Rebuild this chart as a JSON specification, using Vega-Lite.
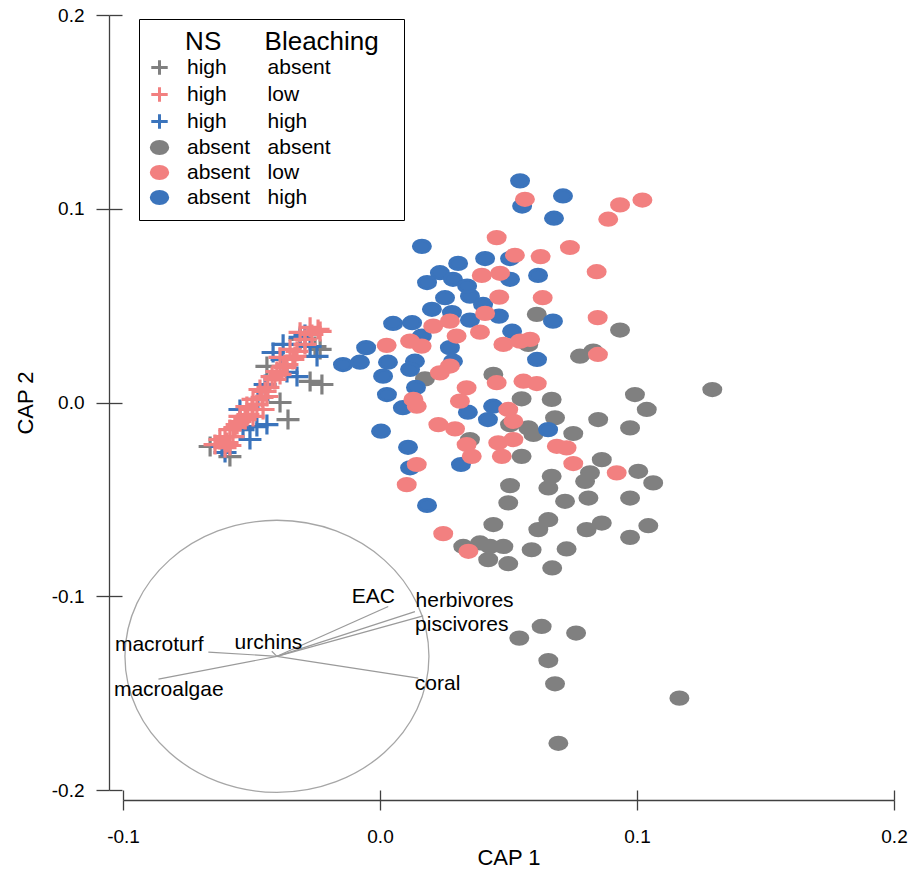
{
  "$schema": "https://vega.github.io/schema/vega-lite/v6.json",
  "width": 771,
  "height": 775,
  "autosize": "none",
  "padding": {"left": 123, "top": 15, "right": 15, "bottom": 89},
  "background": "white",
  "config": {"font": "Liberation Sans", "view": {"stroke": null}},
  "datasets": {
    "samples": [
      {"x": -0.0226, "y": 0.0093, "g": "high/absent"},
      {"x": -0.0358, "y": -0.0088, "g": "high/absent"},
      {"x": -0.0440, "y": 0.0186, "g": "high/absent"},
      {"x": -0.0253, "y": 0.0289, "g": "high/absent"},
      {"x": -0.0661, "y": -0.0227, "g": "high/absent"},
      {"x": -0.0584, "y": -0.0279, "g": "high/absent"},
      {"x": -0.0272, "y": 0.0109, "g": "high/absent"},
      {"x": -0.0389, "y": 0.0000, "g": "high/absent"},
      {"x": -0.0233, "y": 0.0274, "g": "high/absent"},
      {"x": -0.0311, "y": 0.0326, "g": "high/absent"},
      {"x": -0.0311, "y": 0.0336, "g": "high/high"},
      {"x": -0.0272, "y": 0.0289, "g": "high/high"},
      {"x": -0.0416, "y": 0.0258, "g": "high/high"},
      {"x": -0.0245, "y": 0.0238, "g": "high/high"},
      {"x": -0.0362, "y": 0.0155, "g": "high/high"},
      {"x": -0.0323, "y": 0.0134, "g": "high/high"},
      {"x": -0.0545, "y": -0.0036, "g": "high/high"},
      {"x": -0.0479, "y": -0.0124, "g": "high/high"},
      {"x": -0.0533, "y": -0.0140, "g": "high/high"},
      {"x": -0.0440, "y": -0.0114, "g": "high/high"},
      {"x": -0.0603, "y": -0.0258, "g": "high/high"},
      {"x": -0.0377, "y": 0.0300, "g": "high/high"},
      {"x": -0.0447, "y": 0.0093, "g": "high/high"},
      {"x": -0.0506, "y": -0.0191, "g": "high/high"},
      {"x": -0.0615, "y": -0.0227, "g": "high/high"},
      {"x": -0.0475, "y": 0.0016, "g": "high/high"},
      {"x": -0.0381, "y": 0.0222, "g": "high/high"},
      {"x": -0.0292, "y": 0.0351, "g": "high/high"},
      {"x": -0.0272, "y": 0.0388, "g": "high/low"},
      {"x": -0.0311, "y": 0.0362, "g": "high/low"},
      {"x": -0.0339, "y": 0.0222, "g": "high/low"},
      {"x": -0.0377, "y": 0.0186, "g": "high/low"},
      {"x": -0.0420, "y": 0.0134, "g": "high/low"},
      {"x": -0.0467, "y": 0.0067, "g": "high/low"},
      {"x": -0.0494, "y": 0.0016, "g": "high/low"},
      {"x": -0.0518, "y": -0.0021, "g": "high/low"},
      {"x": -0.0440, "y": 0.0031, "g": "high/low"},
      {"x": -0.0545, "y": -0.0072, "g": "high/low"},
      {"x": -0.0584, "y": -0.0140, "g": "high/low"},
      {"x": -0.0623, "y": -0.0191, "g": "high/low"},
      {"x": -0.0595, "y": -0.0207, "g": "high/low"},
      {"x": -0.0572, "y": -0.0176, "g": "high/low"},
      {"x": -0.0350, "y": 0.0274, "g": "high/low"},
      {"x": -0.0401, "y": 0.0160, "g": "high/low"},
      {"x": -0.0455, "y": -0.0036, "g": "high/low"},
      {"x": -0.0494, "y": -0.0072, "g": "high/low"},
      {"x": -0.0389, "y": 0.0233, "g": "high/low"},
      {"x": -0.0292, "y": 0.0326, "g": "high/low"},
      {"x": -0.0525, "y": -0.0088, "g": "high/low"},
      {"x": -0.0556, "y": -0.0114, "g": "high/low"},
      {"x": -0.0603, "y": -0.0233, "g": "high/low"},
      {"x": -0.0479, "y": -0.0010, "g": "high/low"},
      {"x": -0.0642, "y": -0.0217, "g": "high/low"},
      {"x": -0.0564, "y": -0.0129, "g": "high/low"},
      {"x": -0.0514, "y": -0.0062, "g": "high/low"},
      {"x": -0.0459, "y": 0.0026, "g": "high/low"},
      {"x": -0.0409, "y": 0.0119, "g": "high/low"},
      {"x": -0.0362, "y": 0.0196, "g": "high/low"},
      {"x": -0.0323, "y": 0.0264, "g": "high/low"},
      {"x": -0.0265, "y": 0.0351, "g": "high/low"},
      {"x": -0.0233, "y": 0.0367, "g": "high/low"},
      {"x": -0.0603, "y": -0.0176, "g": "high/low"},
      {"x": -0.0545, "y": -0.0098, "g": "high/low"},
      {"x": -0.0498, "y": -0.0036, "g": "high/low"},
      {"x": -0.0447, "y": 0.0057, "g": "high/low"},
      {"x": -0.0389, "y": 0.0145, "g": "high/low"},
      {"x": -0.0331, "y": 0.0238, "g": "high/low"},
      {"x": -0.0292, "y": 0.0300, "g": "high/low"},
      {"x": -0.0241, "y": 0.0377, "g": "high/low"},
      {"x": -0.0584, "y": -0.0222, "g": "high/low"},
      {"x": -0.0436, "y": 0.0078, "g": "high/low"},
      {"x": -0.0370, "y": 0.0181, "g": "high/low"},
      {"x": 0.0610, "y": 0.0455, "g": "absent/absent"},
      {"x": 0.0441, "y": 0.0145, "g": "absent/absent"},
      {"x": 0.0175, "y": 0.0122, "g": "absent/absent"},
      {"x": 0.0778, "y": 0.0239, "g": "absent/absent"},
      {"x": 0.0577, "y": 0.0300, "g": "absent/absent"},
      {"x": 0.0934, "y": 0.0374, "g": "absent/absent"},
      {"x": 0.0830, "y": 0.0265, "g": "absent/absent"},
      {"x": 0.0551, "y": 0.0019, "g": "absent/absent"},
      {"x": 0.0668, "y": 0.0016, "g": "absent/absent"},
      {"x": 0.0681, "y": -0.0079, "g": "absent/absent"},
      {"x": 0.0506, "y": -0.0114, "g": "absent/absent"},
      {"x": 0.0577, "y": -0.0131, "g": "absent/absent"},
      {"x": 0.0597, "y": -0.0165, "g": "absent/absent"},
      {"x": 0.0350, "y": -0.0191, "g": "absent/absent"},
      {"x": 0.0752, "y": -0.0160, "g": "absent/absent"},
      {"x": 0.0849, "y": -0.0088, "g": "absent/absent"},
      {"x": 0.0992, "y": 0.0041, "g": "absent/absent"},
      {"x": 0.1038, "y": -0.0036, "g": "absent/absent"},
      {"x": 0.0973, "y": -0.0131, "g": "absent/absent"},
      {"x": 0.1293, "y": 0.0067, "g": "absent/absent"},
      {"x": 0.0551, "y": -0.0278, "g": "absent/absent"},
      {"x": 0.0863, "y": -0.0295, "g": "absent/absent"},
      {"x": 0.1005, "y": -0.0355, "g": "absent/absent"},
      {"x": 0.1063, "y": -0.0415, "g": "absent/absent"},
      {"x": 0.0817, "y": -0.0363, "g": "absent/absent"},
      {"x": 0.0798, "y": -0.0407, "g": "absent/absent"},
      {"x": 0.0668, "y": -0.0381, "g": "absent/absent"},
      {"x": 0.0655, "y": -0.0441, "g": "absent/absent"},
      {"x": 0.0506, "y": -0.0429, "g": "absent/absent"},
      {"x": 0.0720, "y": -0.0510, "g": "absent/absent"},
      {"x": 0.0811, "y": -0.0493, "g": "absent/absent"},
      {"x": 0.0973, "y": -0.0493, "g": "absent/absent"},
      {"x": 0.0499, "y": -0.0518, "g": "absent/absent"},
      {"x": 0.0441, "y": -0.0630, "g": "absent/absent"},
      {"x": 0.0655, "y": -0.0605, "g": "absent/absent"},
      {"x": 0.0616, "y": -0.0656, "g": "absent/absent"},
      {"x": 0.0863, "y": -0.0622, "g": "absent/absent"},
      {"x": 0.0804, "y": -0.0656, "g": "absent/absent"},
      {"x": 0.1044, "y": -0.0636, "g": "absent/absent"},
      {"x": 0.0973, "y": -0.0696, "g": "absent/absent"},
      {"x": 0.0324, "y": -0.0743, "g": "absent/absent"},
      {"x": 0.0389, "y": -0.0725, "g": "absent/absent"},
      {"x": 0.0428, "y": -0.0743, "g": "absent/absent"},
      {"x": 0.0480, "y": -0.0743, "g": "absent/absent"},
      {"x": 0.0590, "y": -0.0760, "g": "absent/absent"},
      {"x": 0.0726, "y": -0.0756, "g": "absent/absent"},
      {"x": 0.0421, "y": -0.0811, "g": "absent/absent"},
      {"x": 0.0499, "y": -0.0832, "g": "absent/absent"},
      {"x": 0.0670, "y": -0.0854, "g": "absent/absent"},
      {"x": 0.0629, "y": -0.1156, "g": "absent/absent"},
      {"x": 0.0542, "y": -0.1216, "g": "absent/absent"},
      {"x": 0.0763, "y": -0.1190, "g": "absent/absent"},
      {"x": 0.0655, "y": -0.1332, "g": "absent/absent"},
      {"x": 0.0681, "y": -0.1452, "g": "absent/absent"},
      {"x": 0.1165, "y": -0.1526, "g": "absent/absent"},
      {"x": 0.0694, "y": -0.1759, "g": "absent/absent"},
      {"x": 0.0545, "y": 0.1144, "g": "absent/high"},
      {"x": 0.0712, "y": 0.1066, "g": "absent/high"},
      {"x": 0.0553, "y": 0.1014, "g": "absent/high"},
      {"x": 0.0677, "y": 0.0951, "g": "absent/high"},
      {"x": 0.0163, "y": 0.0806, "g": "absent/high"},
      {"x": 0.0409, "y": 0.0743, "g": "absent/high"},
      {"x": 0.0506, "y": 0.0743, "g": "absent/high"},
      {"x": 0.0304, "y": 0.0718, "g": "absent/high"},
      {"x": 0.0233, "y": 0.0670, "g": "absent/high"},
      {"x": 0.0183, "y": 0.0619, "g": "absent/high"},
      {"x": 0.0284, "y": 0.0636, "g": "absent/high"},
      {"x": 0.0506, "y": 0.0636, "g": "absent/high"},
      {"x": 0.0615, "y": 0.0656, "g": "absent/high"},
      {"x": 0.0253, "y": 0.0541, "g": "absent/high"},
      {"x": 0.0350, "y": 0.0549, "g": "absent/high"},
      {"x": 0.0339, "y": 0.0601, "g": "absent/high"},
      {"x": 0.0202, "y": 0.0481, "g": "absent/high"},
      {"x": 0.0401, "y": 0.0506, "g": "absent/high"},
      {"x": 0.0280, "y": 0.0464, "g": "absent/high"},
      {"x": 0.0350, "y": 0.0425, "g": "absent/high"},
      {"x": 0.0463, "y": 0.0446, "g": "absent/high"},
      {"x": 0.0673, "y": 0.0420, "g": "absent/high"},
      {"x": 0.0051, "y": 0.0408, "g": "absent/high"},
      {"x": 0.0125, "y": 0.0412, "g": "absent/high"},
      {"x": 0.0163, "y": 0.0343, "g": "absent/high"},
      {"x": 0.0514, "y": 0.0368, "g": "absent/high"},
      {"x": -0.0054, "y": 0.0283, "g": "absent/high"},
      {"x": -0.0144, "y": 0.0196, "g": "absent/high"},
      {"x": -0.0078, "y": 0.0208, "g": "absent/high"},
      {"x": 0.0031, "y": 0.0208, "g": "absent/high"},
      {"x": 0.0136, "y": 0.0213, "g": "absent/high"},
      {"x": 0.0272, "y": 0.0283, "g": "absent/high"},
      {"x": 0.0611, "y": 0.0222, "g": "absent/high"},
      {"x": 0.0012, "y": 0.0136, "g": "absent/high"},
      {"x": 0.0117, "y": 0.0171, "g": "absent/high"},
      {"x": 0.0140, "y": 0.0078, "g": "absent/high"},
      {"x": 0.0284, "y": 0.0213, "g": "absent/high"},
      {"x": 0.0027, "y": 0.0041, "g": "absent/high"},
      {"x": 0.0089, "y": -0.0027, "g": "absent/high"},
      {"x": 0.0342, "y": -0.0050, "g": "absent/high"},
      {"x": 0.0440, "y": -0.0019, "g": "absent/high"},
      {"x": 0.0420, "y": -0.0088, "g": "absent/high"},
      {"x": 0.0654, "y": -0.0140, "g": "absent/high"},
      {"x": 0.0004, "y": -0.0148, "g": "absent/high"},
      {"x": 0.0109, "y": -0.0231, "g": "absent/high"},
      {"x": 0.0117, "y": -0.0337, "g": "absent/high"},
      {"x": 0.0315, "y": -0.0320, "g": "absent/high"},
      {"x": 0.0183, "y": -0.0531, "g": "absent/high"},
      {"x": 0.0564, "y": 0.1049, "g": "absent/low"},
      {"x": 0.0934, "y": 0.1020, "g": "absent/low"},
      {"x": 0.1021, "y": 0.1045, "g": "absent/low"},
      {"x": 0.0888, "y": 0.0946, "g": "absent/low"},
      {"x": 0.0454, "y": 0.0851, "g": "absent/low"},
      {"x": 0.0739, "y": 0.0800, "g": "absent/low"},
      {"x": 0.0525, "y": 0.0760, "g": "absent/low"},
      {"x": 0.0625, "y": 0.0753, "g": "absent/low"},
      {"x": 0.0396, "y": 0.0656, "g": "absent/low"},
      {"x": 0.0467, "y": 0.0667, "g": "absent/low"},
      {"x": 0.0843, "y": 0.0675, "g": "absent/low"},
      {"x": 0.0464, "y": 0.0544, "g": "absent/low"},
      {"x": 0.0633, "y": 0.0541, "g": "absent/low"},
      {"x": 0.0847, "y": 0.0438, "g": "absent/low"},
      {"x": 0.0409, "y": 0.0460, "g": "absent/low"},
      {"x": 0.0207, "y": 0.0394, "g": "absent/low"},
      {"x": 0.0272, "y": 0.0420, "g": "absent/low"},
      {"x": 0.0298, "y": 0.0343, "g": "absent/low"},
      {"x": 0.0389, "y": 0.0363, "g": "absent/low"},
      {"x": 0.0117, "y": 0.0317, "g": "absent/low"},
      {"x": 0.0162, "y": 0.0291, "g": "absent/low"},
      {"x": 0.0026, "y": 0.0295, "g": "absent/low"},
      {"x": 0.0480, "y": 0.0300, "g": "absent/low"},
      {"x": 0.0545, "y": 0.0317, "g": "absent/low"},
      {"x": 0.0584, "y": 0.0326, "g": "absent/low"},
      {"x": 0.0272, "y": 0.0188, "g": "absent/low"},
      {"x": 0.0233, "y": 0.0153, "g": "absent/low"},
      {"x": 0.0337, "y": 0.0076, "g": "absent/low"},
      {"x": 0.0454, "y": 0.0102, "g": "absent/low"},
      {"x": 0.0558, "y": 0.0110, "g": "absent/low"},
      {"x": 0.0610, "y": 0.0098, "g": "absent/low"},
      {"x": 0.0130, "y": 0.0016, "g": "absent/low"},
      {"x": 0.0311, "y": 0.0007, "g": "absent/low"},
      {"x": 0.0143, "y": -0.0019, "g": "absent/low"},
      {"x": 0.0499, "y": -0.0036, "g": "absent/low"},
      {"x": 0.0227, "y": -0.0114, "g": "absent/low"},
      {"x": 0.0292, "y": -0.0136, "g": "absent/low"},
      {"x": 0.0519, "y": -0.0097, "g": "absent/low"},
      {"x": 0.0519, "y": -0.0191, "g": "absent/low"},
      {"x": 0.0337, "y": -0.0217, "g": "absent/low"},
      {"x": 0.0460, "y": -0.0208, "g": "absent/low"},
      {"x": 0.0357, "y": -0.0278, "g": "absent/low"},
      {"x": 0.0474, "y": -0.0278, "g": "absent/low"},
      {"x": 0.0688, "y": -0.0226, "g": "absent/low"},
      {"x": 0.0726, "y": -0.0234, "g": "absent/low"},
      {"x": 0.0752, "y": -0.0315, "g": "absent/low"},
      {"x": 0.0143, "y": -0.0320, "g": "absent/low"},
      {"x": 0.0921, "y": -0.0363, "g": "absent/low"},
      {"x": 0.0104, "y": -0.0424, "g": "absent/low"},
      {"x": 0.0246, "y": -0.0677, "g": "absent/low"},
      {"x": 0.0344, "y": -0.0768, "g": "absent/low"},
      {"x": 0.0848, "y": 0.0248, "g": "absent/low"}
    ],
    "vectors": [
      {"var": "EAC", "x0": -0.0401, "y0": -0.131, "x1": 0.0032, "y1": -0.1053, "lx": -0.0026, "ly": -0.1003},
      {"var": "herbivores", "x0": -0.0401, "y0": -0.131, "x1": 0.0136, "y1": -0.1079, "lx": 0.0329, "ly": -0.1027},
      {"var": "piscivores", "x0": -0.0401, "y0": -0.131, "x1": 0.0168, "y1": -0.1101, "lx": 0.0318, "ly": -0.1147},
      {"var": "coral", "x0": -0.0401, "y0": -0.131, "x1": 0.0149, "y1": -0.1423, "lx": 0.0224, "ly": -0.1452},
      {"var": "macroturf", "x0": -0.0401, "y0": -0.131, "x1": -0.0668, "y1": -0.1288, "lx": -0.0859, "ly": -0.1251},
      {"var": "macroalgae", "x0": -0.0401, "y0": -0.131, "x1": -0.0862, "y1": -0.1428, "lx": -0.0822, "ly": -0.1483},
      {"var": "urchins", "x0": -0.0401, "y0": -0.131, "x1": -0.0421, "y1": -0.1284, "lx": -0.0434, "ly": -0.1242}
    ]
  },
  "resolve": {"axis": {"x": "independent", "y": "independent"}},
  "layer": [
    {
      "data": {"values": [{"cx": -0.0401, "cy": -0.131}]},
      "mark": {"type": "point", "shape": "M-1,0A1,0.895,0,1,1,1,0A1,0.895,0,1,1,-1,0Z", "size": 92416, "filled": false, "stroke": "#a6a6a6", "strokeWidth": 1.3, "opacity": 1},
      "encoding": {
        "x": {"field": "cx", "type": "quantitative", "scale": {"domain": [-0.1, 0.2], "nice": false, "zero": false},
          "axis": {"orient": "bottom", "offset": 0, "domain": false, "labels": false, "grid": false, "title": null, "values": [-0.1, 0, 0.1, 0.2], "tickSize": 10, "tickColor": "#404040", "tickWidth": 1.3}},
        "y": {"field": "cy", "type": "quantitative", "scale": {"domain": [-0.2, 0.2], "nice": false, "zero": false},
          "axis": {"orient": "left", "offset": 1, "domain": false, "labels": false, "grid": false, "title": null, "values": [-0.2, -0.1, 0, 0.1, 0.2], "tickSize": 13, "tickColor": "#404040", "tickWidth": 1.3}}
      }
    },
    {
      "data": {"name": "vectors"},
      "mark": {"type": "rule", "color": "#9a9a9a", "strokeWidth": 1.2},
      "encoding": {
        "x": {"field": "x0", "type": "quantitative", "axis": null},
        "y": {"field": "y0", "type": "quantitative", "axis": null},
        "x2": {"field": "x1"},
        "y2": {"field": "y1"}
      }
    },
    {
      "data": {"name": "vectors"},
      "mark": {"type": "text", "fontSize": 21, "color": "black", "align": "center", "baseline": "middle"},
      "encoding": {
        "x": {"field": "lx", "type": "quantitative", "axis": null},
        "y": {"field": "ly", "type": "quantitative", "axis": null},
        "text": {"field": "var"}
      }
    },
    {
      "data": {"name": "samples"},
      "transform": [{"filter": "indexof(datum.g, 'high/') == 0"}],
      "mark": {"type": "point", "filled": true, "size": 529, "strokeWidth": 3.2, "opacity": 1},
      "encoding": {
        "x": {"field": "x", "type": "quantitative", "axis": null},
        "y": {"field": "y", "type": "quantitative", "axis": null},
        "fill": {"field": "g", "type": "nominal", "title": "\u200b\u00a0\u00a0\u00a0\u00a0\u00a0NS\u00a0\u00a0\u00a0\u00a0\u00a0\u00a0Bleaching\u00a0\u00a0\u200b",
          "scale": {"domain": ["high/absent", "high/low", "high/high", "absent/absent", "absent/low", "absent/high"], "range": ["#808080", "#f28080", "#3b74bc", "#808080", "#f28080", "#3b74bc"]},
          "legend": {"orient": "none", "legendX": 16, "legendY": 4, "padding": 10,
            "strokeColor": "black", "fillColor": "white",
            "titleFontSize": 26, "titleFontWeight": "normal", "titleColor": "black", "titlePadding": 2, "titleLimit": 500,
            "labelFontSize": 21, "labelColor": "black", "labelOffset": 17, "labelLimit": 400, "symbolSize": 270, "symbolStrokeWidth": 3, "rowPadding": 0,
            "labelExpr": "indexof(datum.label, 'high/') == 0 ? replace(datum.label, '/', '\u00a0\u00a0\u00a0\u00a0\u00a0\u00a0\u00a0') : replace(datum.label, '/', '\u00a0\u00a0\u00a0')",
            "encode": {"legend": {"update": {"strokeWidth": {"value": 2}}}, "title": {"update": {"dy": {"value": -5}}}}}},
        "stroke": {"field": "g", "type": "nominal", "title": "\u200b\u00a0\u00a0\u00a0\u00a0\u00a0NS\u00a0\u00a0\u00a0\u00a0\u00a0\u00a0Bleaching\u00a0\u00a0\u200b",
          "scale": {"domain": ["high/absent", "high/low", "high/high", "absent/absent", "absent/low", "absent/high"], "range": ["#808080", "#f28080", "#3b74bc", "#808080", "#f28080", "#3b74bc"]}},
        "shape": {"field": "g", "type": "nominal", "title": "\u200b\u00a0\u00a0\u00a0\u00a0\u00a0NS\u00a0\u00a0\u00a0\u00a0\u00a0\u00a0Bleaching\u00a0\u00a0\u200b",
          "scale": {"domain": ["high/absent", "high/low", "high/high", "absent/absent", "absent/low", "absent/high"], "range": ["M-1,0L1,0M0,-0.87L0,0.87", "M-1,0L1,0M0,-0.87L0,0.87", "M-1,0L1,0M0,-0.87L0,0.87", "M-1,0A1,0.72,0,1,1,1,0A1,0.72,0,1,1,-1,0Z", "M-1,0A1,0.72,0,1,1,1,0A1,0.72,0,1,1,-1,0Z", "M-1,0A1,0.72,0,1,1,1,0A1,0.72,0,1,1,-1,0Z"]}}
      }
    },
    {
      "data": {"name": "samples"},
      "transform": [{"filter": "indexof(datum.g, 'absent/') == 0"}],
      "mark": {"type": "point", "filled": true, "size": 289, "strokeWidth": 3, "opacity": 1},
      "encoding": {
        "x": {"field": "x", "type": "quantitative",
          "axis": {"orient": "bottom", "offset": 10, "values": [-0.1, 0, 0.1, 0.2], "tickSize": 10, "tickColor": "#404040", "tickWidth": 1.3, "domainColor": "#404040", "domainWidth": 1.3, "grid": false, "labelFlush": false,
            "labelFontSize": 19, "labelColor": "black", "labelPadding": 17, "labelExpr": "datum.value < 0 ? '-' + format(-datum.value, '.1f') : format(datum.value, '.1f')",
            "title": "CAP 1", "titleFontSize": 22, "titleFontWeight": "normal", "titleColor": "black", "titlePadding": 1}},
        "y": {"field": "y", "type": "quantitative",
          "axis": {"orient": "left", "offset": 14, "values": [-0.2, -0.1, 0, 0.1, 0.2], "tickSize": 13, "tickColor": "#404040", "tickWidth": 1.3, "domainColor": "#404040", "domainWidth": 1.3, "grid": false, "labelFlush": false,
            "labelFontSize": 19, "labelColor": "black", "labelPadding": 12, "labelExpr": "datum.value < 0 ? '-' + format(-datum.value, '.1f') : format(datum.value, '.1f')",
            "title": "CAP 2", "titleFontSize": 22, "titleFontWeight": "normal", "titleColor": "black", "titlePadding": 14}},
        "fill": {"field": "g", "type": "nominal", "title": "\u200b\u00a0\u00a0\u00a0\u00a0\u00a0NS\u00a0\u00a0\u00a0\u00a0\u00a0\u00a0Bleaching\u00a0\u00a0\u200b",
          "scale": {"domain": ["high/absent", "high/low", "high/high", "absent/absent", "absent/low", "absent/high"], "range": ["#808080", "#f28080", "#3b74bc", "#808080", "#f28080", "#3b74bc"]}},
        "stroke": {"field": "g", "type": "nominal", "title": "\u200b\u00a0\u00a0\u00a0\u00a0\u00a0NS\u00a0\u00a0\u00a0\u00a0\u00a0\u00a0Bleaching\u00a0\u00a0\u200b",
          "scale": {"domain": ["high/absent", "high/low", "high/high", "absent/absent", "absent/low", "absent/high"], "range": ["#808080", "#f28080", "#3b74bc", "#808080", "#f28080", "#3b74bc"]}},
        "shape": {"field": "g", "type": "nominal", "title": "\u200b\u00a0\u00a0\u00a0\u00a0\u00a0NS\u00a0\u00a0\u00a0\u00a0\u00a0\u00a0Bleaching\u00a0\u00a0\u200b",
          "scale": {"domain": ["high/absent", "high/low", "high/high", "absent/absent", "absent/low", "absent/high"], "range": ["M-1,0L1,0M0,-0.87L0,0.87", "M-1,0L1,0M0,-0.87L0,0.87", "M-1,0L1,0M0,-0.87L0,0.87", "M-1,0A1,0.72,0,1,1,1,0A1,0.72,0,1,1,-1,0Z", "M-1,0A1,0.72,0,1,1,1,0A1,0.72,0,1,1,-1,0Z", "M-1,0A1,0.72,0,1,1,1,0A1,0.72,0,1,1,-1,0Z"]}}
      }
    }
  ]
}
